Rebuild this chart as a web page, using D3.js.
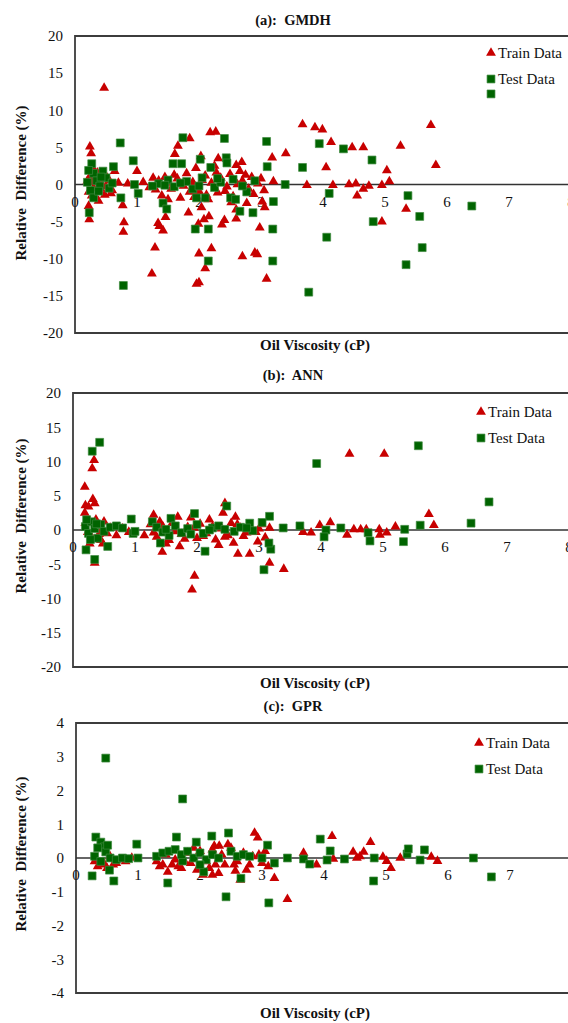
<!DOCTYPE html>
<html>
<head>
<meta charset="utf-8">
<script src="https://cdn.jsdelivr.net/npm/d3@7"></script>
<style>
  body { margin: 0; background: #fff; }
  text { font-family: 'Liberation Serif', 'DejaVu Serif', 'Times New Roman', serif; }
</style>
</head>
<body>
<svg id="chart" width="568" height="1023"></svg>
<script>
// relative difference vs oil viscosity, three models

const xTicks = [0, 1, 2, 3, 4, 5, 6, 7, 8];
const yTicksWide = [-20, -15, -10, -5, 0, 5, 10, 15, 20];
const yTicksNarrow = [-4, -3, -2, -1, 0, 1, 2, 3, 4];
const seriesNames = ["Train Data", "Test Data"];

// (a) GMDH  [viscosity, relative difference]
const gmdhTrain = [
  [0.47,13.0],[0.24,5.1],[0.26,4.2],[1.0,1.8],[1.26,0.9],[1.85,6.2],[1.66,5.2],[1.61,4.1],[2.03,3.8],
  [2.18,7.0],[2.27,7.1],[2.31,3.5],[2.69,3.0],[2.66,1.8],[3.18,3.6],[3.40,4.2],[0.64,1.8],[3.67,8.1],
  [3.87,7.7],[3.99,7.4],[4.13,5.7],[4.47,5.0],[4.65,5.0],[4.05,2.3],[5.03,1.9],[5.25,5.2],[5.74,8.0],
  [5.82,2.6],[3.74,-0.1],[4.16,-0.1],[4.42,0],[4.53,0.1],[4.55,-1.5],[4.65,-0.6],[4.74,-0.2],[4.95,-0.1],
  [5.07,0.4],[5.34,-3.3],[4.95,-5.0],[0.23,-4.7],[0.22,-2.9],[0.78,-6.4],[0.79,-5.1],[0.77,-2.8],
  [1.24,-12.0],[1.29,-8.5],[1.34,-5.2],[1.36,-5.6],[1.42,-6.2],[1.46,-4.4],[1.5,-2.0],[1.83,-3.8],
  [2.0,-13.2],[1.96,-13.4],[2.1,-11.3],[2.0,-9.3],[2.2,-8.6],[2.08,-4.7],[2.16,-4.3],[1.99,-5.3],
  [2.04,-3.1],[2.37,-5.4],[2.41,-4.8],[2.6,-4.6],[2.6,-3.4],[2.77,-2.5],[2.7,-9.7],[2.9,-9.2],
  [2.94,-9.4],[2.98,-5.8],[3.09,-12.7],[3.06,-3.1],[3.02,-2.3],[3.2,0.4],
  [0.2,0.5],[0.25,1.2],[0.3,-0.5],[0.35,0.8],[0.4,-1.0],[0.45,1.5],[0.5,-0.3],[0.55,0.6],[0.3,2.0],
  [0.38,-2.2],[0.6,-0.8],[0.7,0.2],[0.85,0.1],[1.1,0.3],[1.2,-0.4],[1.35,0.5],[1.45,1.0],[1.55,-0.6],
  [1.65,0.8],[1.75,-0.2],[1.8,1.5],[1.9,0.3],[2.0,-0.9],[2.1,1.2],[2.2,0.2],[2.3,-1.1],[2.35,0.9],
  [2.45,-0.3],[2.5,1.4],[2.55,-1.6],[2.7,0.5],[2.8,-0.6],[2.85,1.0],[2.95,0.1],[3.05,-0.8],[2.25,2.5],
  [1.95,2.2],[2.6,2.6],[1.4,-1.5],[1.7,-1.8],[2.15,-2.0],[0.27,-1.5],[0.42,0.2],
  [0.22,-1.0],[0.28,0.3],[0.33,-1.8],[0.36,1.6],[0.41,-0.6],[0.48,-1.4],[0.52,0.9],[0.58,-1.2],
  [1.3,-0.7],[1.5,0.2],[1.6,1.3],[1.85,-1.0],[2.05,0.6],[2.12,-1.4],[2.28,1.6],[2.42,-0.9],
  [2.62,0.0],[2.75,1.3],[2.88,-1.3],[3.0,0.8],[1.92,-1.7],[2.52,-2.4]
];
const gmdhTest = [
  [0.73,5.6],[0.94,3.2],[1.74,6.3],[1.58,2.8],[1.72,2.8],[2.02,3.4],[2.41,6.2],[2.19,2.3],[2.44,3.6],
  [2.45,2.9],[3.09,5.8],[3.1,2.4],[0.27,2.8],[0.62,2.4],[3.94,5.5],[4.33,4.8],[3.67,2.3],[4.79,3.3],
  [6.71,12.2],[3.39,0],[4.1,-1.2],[5.37,-1.5],[5.56,-4.3],[4.81,-5.0],[4.06,-7.1],[5.6,-8.5],
  [5.34,-10.8],[6.4,-2.9],[3.77,-14.5],[0.23,-3.8],[0.78,-13.6],[0.74,-1.8],[1.02,-1.2],[0.96,0],
  [1.42,-2.5],[1.48,-3.3],[1.94,-6.0],[2.15,-6.0],[2.15,-10.3],[1.96,-1.8],[2.1,-1.8],[2.51,-1.8],
  [2.59,-2.0],[2.66,-3.6],[2.77,-1.0],[2.87,-3.8],[3.19,-6.0],[3.19,-10.3],[3.2,-2.3],
  [0.2,0.3],[0.25,-0.8],[0.3,1.5],[0.35,0.5],[0.4,-0.2],[0.45,1.8],[0.5,0.9],[0.55,-0.5],[0.3,-1.8],
  [0.6,0.2],[1.35,0.1],[1.5,0.6],[1.6,-0.3],[1.8,0.4],[1.9,-0.6],[2.05,0.9],[2.25,-0.4],[2.35,0.3],
  [2.55,0.7],[2.7,-0.2],[2.9,0.5],[1.25,-0.2],
  [0.22,1.9],[0.38,-0.9],[0.42,1.0],[1.45,-0.1],[1.7,0.2],[2.0,-0.2],[2.3,0.8]
];

// (b) ANN
const annTrain = [
  [0.34,10.2],[0.31,9.0],[0.19,6.3],[0.2,3.6],[0.32,4.5],[0.25,3.4],[0.35,3.9],[0.19,2.5],[1.3,2.2],
  [1.69,1.9],[2.42,2.5],[2.45,3.9],[2.62,1.9],[3.17,0.3],[4.46,11.1],[5.02,11.1],[5.74,2.3],[5.82,0.7],
  [3.71,-0.3],[3.84,-0.4],[3.98,0.7],[4.15,1.1],[4.42,-0.7],[4.53,0.1],[4.64,0.1],[4.73,0.1],[4.94,0.1],
  [4.95,-0.7],[5.06,-0.4],[5.2,0.5],[0.35,-4.8],[0.27,-2.0],[1.44,-3.2],[1.72,-2.4],[1.96,-6.7],
  [1.92,-8.7],[2.66,-3.5],[2.85,-3.5],[3.17,-4.8],[3.4,-5.7],[2.98,-1.7],[2.59,-1.9],
  [0.2,1.0],[0.3,-1.0],[0.4,0.5],[0.45,-1.5],[0.5,1.2],[0.55,-0.5],[0.6,0.3],[0.7,-0.8],[0.8,0.2],
  [0.9,-0.3],[1.25,0.8],[1.35,-1.0],[1.45,0.5],[1.55,-1.5],[1.6,1.0],[1.75,-0.6],[1.85,0.4],[2.0,-1.2],
  [2.05,0.9],[2.15,-0.5],[2.2,1.5],[2.3,-1.4],[2.4,0.2],[2.5,-0.8],[2.55,1.0],[2.7,0.3],[2.75,-0.9],
  [2.85,0.6],[2.95,-0.3],[3.05,0.8],[3.1,-1.1],[1.9,1.8],[2.35,-2.2],[1.5,-2.0],[1.15,-0.8],
  [0.24,-0.3],[0.37,1.5],[0.42,-0.6],[0.48,-2.0],[1.3,-0.4],[1.4,1.2],[1.65,-0.2],[1.8,-1.3],
  [1.95,0.3],[2.1,-0.9],[2.25,0.5],[2.45,-1.0],[2.65,0.8],[2.8,-0.4],[3.0,0.2]
];
const annTest = [
  [0.31,11.5],[0.43,12.8],[0.94,1.6],[1.28,1.2],[1.58,1.7],[1.96,2.4],[2.48,3.5],[3.17,2.0],[2.85,1.0],
  [3.05,1.1],[3.39,0.3],[3.93,9.7],[5.57,12.3],[5.6,0.7],[6.42,1.0],[6.71,4.1],[3.66,0.6],[4.08,0],
  [4.05,-1.0],[4.32,0.3],[4.76,-0.4],[4.79,-1.6],[5.35,0.1],[5.33,-1.7],[0.35,-4.3],[0.21,-2.9],
  [0.56,-2.4],[0.97,-0.5],[1.41,-1.9],[2.13,-3.1],[3.08,-5.8],[3.19,-2.8],[3.16,-1.9],
  [0.2,0.5],[0.25,-0.5],[0.3,1.2],[0.35,0.2],[0.4,-1.2],[0.45,0.8],[0.5,-0.2],[0.6,0.4],[0.7,0.6],
  [0.8,0.3],[1.0,-0.2],[1.35,0.4],[1.45,-0.3],[1.65,0.6],[1.75,-0.4],[1.85,0.2],[2.0,0.8],[2.1,-0.5],
  [2.25,0.3],[2.35,0.6],[2.6,-0.2],[2.7,0.4],[2.9,-0.1],[1.55,-0.8],
  [0.22,1.5],[0.28,-1.4],[0.38,0.9],[1.5,0.1],[1.9,-0.6],[2.2,0.0],[2.45,0.1],[2.8,0.3]
];

// (c) GPR
const gprTrain = [
  [2.88,0.74],[2.93,0.6],[2.31,0.36],[2.23,0.36],[1.48,-0.41],[2.57,-0.38],[2.65,-0.65],[3.2,-0.6],
  [3.41,-1.22],[4.13,0.65],[3.67,0.15],[3.88,-0.2],[4.15,-0.03],[4.47,0.18],[4.53,0],[4.64,0.18],
  [4.58,0.05],[4.75,0.47],[4.95,0.03],[5.01,-0.09],[5.08,-0.3],[5.23,0],[5.73,0.03],[5.83,-0.09],
  [0.3,-0.1],[0.35,-0.25],[0.45,-0.15],[0.5,-0.3],[0.55,0.05],[0.6,-0.2],[0.7,-0.05],[0.8,-0.1],
  [0.9,0.0],[1.3,-0.1],[1.35,-0.25],[1.45,0.1],[1.55,-0.2],[1.6,-0.05],[1.7,-0.3],[1.8,0.15],
  [1.85,-0.15],[1.95,-0.35],[2.0,0.2],[2.1,-0.1],[2.15,-0.3],[2.2,0.25],[2.3,-0.45],[2.35,0.1],
  [2.4,-0.2],[2.5,0.3],[2.6,-0.1],[2.7,0.15],[2.75,-0.35],[2.85,0.05],[3.0,-0.15],[3.05,0.2],
  [3.1,-0.25],[1.9,0.3],[2.45,0.4],[2.05,-0.5],[2.2,-0.5],
  [0.4,-0.2],[0.65,-0.15],[1.4,-0.2],[1.65,-0.25],[1.75,-0.1],[2.0,-0.25],[2.25,-0.2],[2.55,-0.2],
  [2.8,-0.2],[2.95,0.1]
];
const gprTest = [
  [0.48,2.96],[1.72,1.75],[0.32,0.62],[0.4,0.47],[0.46,0.33],[0.35,0.3],[0.48,0.18],[0.51,0.38],
  [0.98,0.41],[1.62,0.62],[2.19,0.65],[2.46,0.74],[1.94,0.47],[3.09,0.38],[0.26,-0.53],[0.61,-0.68],
  [0.54,-0.36],[1.48,-0.74],[1.72,-0.09],[2.06,-0.41],[2.66,-0.6],[2.42,-1.15],[3.11,-1.33],
  [3.2,-0.15],[3.41,0],[3.94,0.56],[4.1,0.21],[3.67,-0.03],[3.77,-0.18],[4.05,-0.06],[4.33,-0.03],
  [4.81,0],[4.8,-0.68],[5.34,0.12],[5.36,0.27],[5.55,-0.06],[5.62,0.24],[6.41,0],[6.7,-0.56],
  [0.3,0.05],[0.4,-0.1],[0.55,0.0],[0.65,-0.05],[0.75,0.0],[0.85,-0.02],[1.0,0.0],[1.3,0.05],
  [1.4,0.15],[1.5,0.2],[1.6,0.25],[1.7,0.1],[1.8,0.2],[1.9,0.0],[2.0,0.15],[2.1,-0.05],[2.2,0.1],
  [2.3,0.0],[2.5,0.2],[2.6,0.05],[2.7,0.1],[2.8,0.05],[3.0,0.0],[2.0,-0.2]
];

const RED = "#c80000", GREEN = "#006400";
const FONT = "'Liberation Serif', 'DejaVu Serif', serif";
const svg = d3.select("#chart");

const tri = d3.symbol().type(d3.symbolTriangle).size(42);
const sq = d3.symbol().type(d3.symbolSquare).size(62);

const panels = [
  {title: "(a):  GMDH", train: gmdhTrain, test: gmdhTest, yTicks: yTicksWide,
   left: 75, top: 36, bottom: 333, titleY: 25, xlabY: 350, ylabY: 183, legX: 491, legY: 53},
  {title: "(b):  ANN", train: annTrain, test: annTest, yTicks: yTicksWide,
   left: 73, top: 393, bottom: 667, titleY: 380, xlabY: 688, ylabY: 516, legX: 481, legY: 412},
  {title: "(c):  GPR", train: gprTrain, test: gprTest, yTicks: yTicksNarrow,
   left: 76, top: 723, bottom: 993, titleY: 711, xlabY: 1018, ylabY: 854, legX: 479, legY: 743}
];

panels.forEach(function (p) {
  let x = d3.scaleLinear().domain([0, 8]).range([p.left, p.left + 8 * 62]);
  let y = d3.scaleLinear().domain(d3.extent(p.yTicks)).range([p.bottom, p.top]);
  let g = svg.append("g").attr("font-family", FONT);

  // frame: top, left, bottom (right side runs off the page)
  g.append("path")
    .attr("d", "M600," + p.top + "H" + p.left + "V" + p.bottom + "H600")
    .attr("fill", "none").attr("stroke", "#3c3c3c").attr("stroke-width", 1.8);

  // zero line
  g.append("line")
    .attr("x1", p.left).attr("x2", 600)
    .attr("y1", y(0)).attr("y2", y(0))
    .attr("stroke", "#333").attr("stroke-width", 1.4);

  // y tick labels
  g.selectAll(".yt").data(p.yTicks).enter().append("text")
    .attr("x", p.left - 12).attr("y", function (d) { return y(d); })
    .attr("dy", "0.35em").attr("text-anchor", "end")
    .attr("font-size", 15).attr("fill", "#111")
    .text(function (d) { return d; });

  // x tick labels sit under the zero line
  g.selectAll(".xt").data(xTicks).enter().append("text")
    .attr("x", function (d) { return x(d); }).attr("y", y(0) + 22)
    .attr("text-anchor", "middle")
    .attr("font-size", 15).attr("fill", "#111")
    .text(function (d) { return d; });

  g.selectAll(".tr").data(p.train).enter().append("path")
    .attr("d", tri)
    .attr("transform", function (d) { return "translate(" + x(d[0]) + "," + y(d[1]) + ")"; })
    .attr("fill", RED);

  g.selectAll(".te").data(p.test).enter().append("path")
    .attr("d", sq)
    .attr("transform", function (d) { return "translate(" + x(d[0]) + "," + y(d[1]) + ")"; })
    .attr("fill", GREEN).attr("stroke", "#3f8a3f").attr("stroke-width", 0.7);

  // titles
  g.append("text")
    .attr("x", 293).attr("y", p.titleY).attr("text-anchor", "middle")
    .attr("font-size", 14.5).attr("font-weight", "bold").attr("fill", "#111")
    .style("white-space", "pre")
    .text(p.title);

  g.append("text")
    .attr("x", 315).attr("y", p.xlabY).attr("text-anchor", "middle")
    .attr("font-size", 15).attr("font-weight", "bold").attr("fill", "#111")
    .text("Oil Viscosity (cP)");

  g.append("text")
    .attr("transform", "translate(26," + p.ylabY + ") rotate(-90)")
    .attr("text-anchor", "middle")
    .attr("font-size", 15).attr("font-weight", "bold").attr("fill", "#111")
    .style("white-space", "pre")
    .text("Relative  Difference (%)");

  // legend
  let leg = g.append("g");
  leg.append("path").attr("d", tri)
    .attr("transform", "translate(" + p.legX + "," + p.legY + ")").attr("fill", RED);
  leg.append("path").attr("d", sq)
    .attr("transform", "translate(" + p.legX + "," + (p.legY + 26) + ")")
    .attr("fill", GREEN).attr("stroke", "#3f8a3f").attr("stroke-width", 0.7);
  leg.selectAll("text").data(seriesNames).enter().append("text")
    .attr("x", p.legX + 7).attr("y", function (d, i) { return p.legY + 5 + i * 26; })
    .attr("font-size", 15).attr("fill", "#111")
    .text(function (d) { return d; });
});
</script>
</body>
</html>
